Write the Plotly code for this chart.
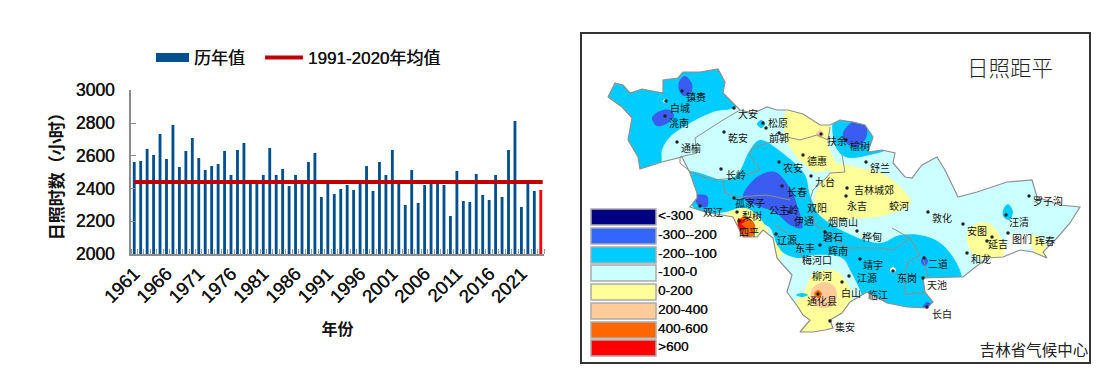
import plotly.graph_objects as go

FONT = "Liberation Sans, Noto Sans CJK SC, sans-serif"
CJK = "Noto Sans CJK SC, sans-serif"
THICK = "0.35px 0 0 #111111"

# ---------- left chart data ----------
years = list(range(1961, 2025))
sunshine_hours = [
    2562, 2568, 2642, 2605, 2733, 2580, 2788, 2532, 2629, 2709, 2587, 2513, 2538, 2550, 2629, 2483,
    2635, 2678, 2432, 2432, 2483, 2648, 2483, 2519, 2415, 2483, 2432, 2562, 2617, 2348, 2432, 2367,
    2397, 2421, 2391, 2432, 2538, 2385, 2562, 2483, 2635, 2432, 2299, 2513, 2311, 2421, 2432, 2432,
    2421, 2232, 2507, 2324, 2318, 2489, 2360, 2330, 2483, 2348, 2635, 2813, 2287, 2432, 2385, 2391,
]
normal_1991_2020 = 2440
tick_years = list(range(1961, 2022, 5))

# ---------- map data (image-space outlines of the province and anomaly bands) ----------
province = [(608,97),(615,83),(623,85),(630,93),(642,89),(648,90),(663,93),(663,80),(678,78),(683,72),(700,72),(718,69),
    (725,82),(723,93),(735,105),(740,110),(753,113),(767,107),(777,110),(788,110),(803,114),(820,125),(830,125),(840,120),
    (853,122),(865,125),(873,137),(868,152),(882,150),(895,153),(893,163),(905,177),(912,178),(922,165),(937,157),(945,170),
    (958,197),(977,192),(1007,182),(1032,180),(1037,197),(1060,205),(1080,207),(1070,223),(1057,238),(1043,252),(1047,258),
    (1033,252),(1020,250),(1007,255),(1003,257),(987,258),(963,277),(958,277),(923,278),(925,292),(933,302),(927,308),(907,307),
    (887,303),(867,292),(850,302),(842,313),(830,320),(833,328),(825,330),(813,332),(800,332),(810,320),(803,315),(798,307),
    (787,292),(792,275),(783,265),(777,258),(773,238),(763,230),(757,237),(743,237),(733,217),(723,215),(705,212),(690,207),
    (697,198),(697,193),(690,173),(682,157),(662,162),(640,169),(638,157),(628,140),(632,118),(622,107)]

cyan_nw = [(600,60),(737,60),(738,105),(713,112),(690,123),(670,137),(662,150),(660,165),(620,175),(600,175)]
cyan_ne = [(835,118),(878,125),(876,148),(886,150),(870,155),(850,158),(842,155),(835,145)]
cyan_main = [(760,140),(785,155),(805,175),(810,195),(820,215),(845,232),(880,243),(900,235),(925,236),(945,247),(962,282),
    (935,315),(870,312),(860,290),(850,270),(842,258),(815,255),(797,258),(780,250),(770,228),(760,222),(745,208),(725,212),
    (700,213),(685,190),(688,172),(725,180),(737,175),(750,150)]
cyan_spots = [[(761,120),(765,124),(761,128),(757,124)], [(1008,204),(1013,212),(1009,220),(1003,216),(1004,208)],
    [(796,295),(802,293),(808,295),(802,297)]]
blue_main = [(743,197),(757,177),(775,172),(790,188),(797,205),(802,228),(790,225),(775,212),(755,205)]
blue_spots = [[(685,76),(692,84),(691,93),(684,96),(679,90),(679,82)], [(652,118),(660,111),(670,110),(674,116),(668,123),(657,126)],
    [(855,121),(866,126),(866,138),(856,147),(846,143),(843,133)], [(695,196),(707,196),(707,207),(698,205)],
    [(924,256),(928,261),(925,266),(921,262)], [(927,302),(932,305),(928,310),(922,309)]]
yellow_north = [(788,108),(820,118),(830,125),(828,145),(835,165),(815,172),(805,165),(793,152),(785,135)]
yellow_central = [(815,195),(820,185),(830,172),(828,163),(860,168),(885,175),(903,190),(911,203),(890,214),(850,219),(825,219),(816,210)]
yellow_south = [(805,290),(812,275),(825,270),(838,272),(848,285),(852,300),(835,325),(800,338),(795,305)]
yellow_west = [(725,215),(745,208),(760,218),(770,235),(782,255),(770,258),(755,240),(735,230)]
yellow_east = [(967,235),(975,224),(990,224),(1002,240),(1005,255),(990,259),(975,256),(968,245)]
yellow_far_east = [(1030,235),(1040,237),(1048,255),(1040,256),(1032,248)]
peach_south = [(824,282),(834,286),(837,296),(832,306),(821,308),(812,302),(812,289)]
peach_north = [(820,130),(824,134),(820,138),(816,134)]
orange_south = [(818,290),(822,294),(818,298),(814,294)]
orange_west = [(745,216),(755,225),(752,237),(740,238),(738,222)]
red_west = [(738,218),(746,221),(741,224),(746,228),(741,231),(745,236),(737,239)]
white_patch = [(1007,235),(1030,233),(1032,248),(1020,250),(1007,255),(1003,258)]
white_spots = [[(665,99),(667,101),(665,103),(663,101)], [(893,267),(896,270),(893,273),(890,270)]]

county_lines = [
    [(740,110),(723,120),(695,138),(697,153),(680,157),(680,163),(692,173),(713,180),(737,178),(760,170),(750,155),(752,148),
     (787,137),(800,140),(817,135),(828,140),(830,127)],
    [(723,180),(725,193),(737,197),(767,195),(790,200)],
    [(842,155),(845,172),(830,173),(827,177),(813,190),(810,200),(815,225),(830,235),(848,248),(845,257)],
    [(892,228),(910,238),(920,255),(908,262),(905,272),(905,295),(925,292)],
    [(848,248),(880,248),(893,250),(910,238)],
    [(923,257),(928,277)],
    [(775,225),(790,235),(800,250),(805,265)],
]

station_x = [682,666,665,734,724,677,721,763,766,779,779,782,803,811,821,734,846,866,847,846,1029,928,963,1006,1008,992,987,967,857,860,893,924,927,923,849,842,830,700,737,739,776,789,825,820,818]
station_y = [91,101,116,108,132,142,169,123,128,133,162,186,155,176,134,198,140,162,188,196,196,212,224,215,233,237,241,253,231,259,271,258,307,278,276,282,321,206,212,221,234,212,232,245,294]

map_names = ["镇赉","白城","洮南","大安","乾安","通榆","长岭","农安","榆树","扶余","松原","前郭","德惠","九台","舒兰","长春","吉林城郊","永吉","蛟河",
    "双辽","孤家子","公主岭","伊通","双阳","梨树","四平","辽源","东丰","磐石","梅河口","辉南","柳河","通化县","烟筒山","桦甸","敦化","靖宇","东岗","二道","天池","长白",
    "江源","白山","临江","集安","安图","延吉","和龙","图们","珲春","汪清","罗子沟"]
name_x = [696,680,679,748,738,691,736,793,860,837,778,779,817,825,880,797,874,857,899,713,750,784,804,817,752,749,787,805,833,817,838,822,822,843,872,942,873,907,938,937,942,867,851,878,845,977,998,981,1022,1045,1019,1048]
name_y = [98,109,124,115,139,149,176,169,147,142,124,139,162,183,169,193,191,207,207,213,204,211,222,209,217,233,241,249,238,261,252,277,302,223,238,219,266,279,265,286,315,279,294,296,328,232,245,260,240,242,223,202]

legend_labels = ["<-300","-300--200","-200--100","-100-0","0-200","200-400","400-600",">600"]
legend_colors = ["#000080","#3366FF","#00CCFF","#CCFFFF","#FFFF99","#FFCC99","#FF6600","#FF0000"]
legend_rows = [217,236,255,273,292,311,330,348]

fig = go.Figure()

# ---------- bars and mean line ----------
fig.add_trace(go.Bar(x=years, y=sunshine_hours, width=0.44, showlegend=False,
                     marker=dict(color=["#00508F"] * 63 + ["#FF0000"], line_width=0)))
fig.add_trace(go.Scatter(x=[None], y=[None], mode="lines", name="历年值", legend="legend",
                         line=dict(color="#00508F", width=9)))
fig.add_trace(go.Scatter(x=[years[0], years[-1] + 0.3], y=[normal_1991_2020] * 2, mode="lines", legend="legend2",
                         name="1991-2020年均值", line=dict(color="#C00000", width=4)))

# ---------- map ----------
def poly(points, color, smooth=True):
    xs = [p[0] for p in points] + [points[0][0]]
    ys = [p[1] for p in points] + [points[0][1]]
    fig.add_trace(go.Scatter(x=xs, y=ys, xaxis="x2", yaxis="y2", mode="lines", fill="toself", fillcolor=color,
                             line=dict(width=0, color=color, shape="spline" if smooth else "linear"),
                             hoverinfo="skip", showlegend=False))

poly(province, "#CCFFFF", False)
for pts in [cyan_nw, cyan_ne, cyan_main]:
    poly(pts, "#00CCFF")
for pts in [yellow_north, yellow_central, yellow_south, yellow_west, yellow_east, yellow_far_east]:
    poly(pts, "#FFFF99")
for pts in cyan_spots:
    poly(pts, "#00CCFF")
poly(blue_main, "#3A5CF0")
for pts in blue_spots:
    poly(pts, "#3A5CF0")
poly(peach_south, "#FFCC99")
poly(peach_north, "#FFCC99")
poly(orange_south, "#FF6600")
poly(orange_west, "#FF6600")
poly(red_west, "#FF0000", False)
poly(white_patch, "#FFFFFF", False)
for pts in white_spots:
    poly(pts, "#FFFFFF")

# white mask outside the province, so the bands stop at its border
frame = [(582,34),(1089,34),(1089,362),(582,362),(582,34)]
mask = frame + [province[0]] + province[::-1] + [province[0], (582,34)]
fig.add_trace(go.Scatter(x=[p[0] for p in mask], y=[p[1] for p in mask], xaxis="x2", yaxis="y2", mode="lines",
                         fill="toself", fillcolor="#FFFFFF", line=dict(width=0), hoverinfo="skip", showlegend=False))

cx, cy = [], []
for seg in county_lines:
    cx += [p[0] for p in seg] + [None]
    cy += [p[1] for p in seg] + [None]
fig.add_trace(go.Scatter(x=cx, y=cy, xaxis="x2", yaxis="y2", mode="lines",
                         line=dict(color="#8E8E8E", width=1), hoverinfo="skip", showlegend=False))
fig.add_trace(go.Scatter(x=[p[0] for p in province] + [province[0][0]], y=[p[1] for p in province] + [province[0][1]],
                         xaxis="x2", yaxis="y2", mode="lines", line=dict(color="#8E8E8E", width=1.2),
                         hoverinfo="skip", showlegend=False))
fig.add_trace(go.Scatter(x=station_x, y=station_y, xaxis="x2", yaxis="y2", mode="markers",
                         marker=dict(size=3.5, color="#222222"), hoverinfo="skip", showlegend=False))
fig.add_trace(go.Scatter(x=name_x, y=name_y, text=map_names, xaxis="x2", yaxis="y2", mode="text",
                         textfont=dict(family=CJK, size=10, color="#111111"), hoverinfo="skip", showlegend=False))

# map legend, on its own pair of axes so it sits above the map
fig.add_trace(go.Bar(y=legend_rows, x=[65] * 8, base=[591] * 8, orientation="h", width=16, xaxis="x3", yaxis="y3",
                     marker=dict(color=legend_colors, line=dict(color="#ABABAB", width=1.5)),
                     hoverinfo="skip", showlegend=False))
fig.add_trace(go.Scatter(x=[658] * 8, y=legend_rows, text=legend_labels, xaxis="x3", yaxis="y3", mode="text",
                         textposition="middle right", textfont=dict(family=FONT, size=13.5, color="#111111", shadow=THICK),
                         hoverinfo="skip", showlegend=False))
fig.add_trace(go.Scatter(x=[1010], y=[71], text=["日照距平"], xaxis="x3", yaxis="y3", mode="text",
                         textfont=dict(family=CJK, size=21.5, color="#222222", weight=300), hoverinfo="skip", showlegend=False))
fig.add_trace(go.Scatter(x=[1034], y=[352], text=["吉林省气候中心"], xaxis="x3", yaxis="y3", mode="text",
                         textfont=dict(family=CJK, size=15.5, color="#222222"), hoverinfo="skip", showlegend=False))

# the page body has an 8 px margin, so the figure starts at (8, 8)
OFF = 8
W, H = 1096, 375
def fx(px):
    return (px - OFF) / W
def fy(px):
    return 1 - (px - OFF) / H

map_x = dict(domain=[fx(582), fx(1089)], range=[582, 1089], showticklabels=False, ticks="", showgrid=False, zeroline=False)
map_y = dict(domain=[fy(362), fy(34)], range=[362, 34], showticklabels=False, ticks="", showgrid=False, zeroline=False)
legend_style = dict(orientation="h", y=fy(40), xanchor="left", yanchor="top",
                    font=dict(family=FONT, size=17, color="#111111", shadow=THICK), bgcolor="rgba(0,0,0,0)")

fig.update_layout(
    width=W, height=H, margin=dict(l=0, r=0, t=0, b=0, pad=0), paper_bgcolor="white", plot_bgcolor="white",
    barmode="overlay", font=dict(family=FONT, color="#111111"),
    legend=dict(x=fx(151), itemwidth=33, **legend_style),
    legend2=dict(x=fx(260), itemwidth=38, **legend_style),
    xaxis=dict(domain=[fx(131), fx(544)], range=[1960.5, 2024.5], tickmode="array", tickvals=tick_years, automargin=False,
               ticktext=[str(y) for y in tick_years], tickangle=-45, ticks="", showgrid=False, zeroline=False,
               showline=True, linecolor="#8C8C8C", linewidth=1.5, tickfont=dict(family=FONT, size=18.5, color="#111111", shadow=THICK),
               minor=dict(tick0=1960.5, dtick=1, ticks="inside", ticklen=5, tickcolor="#9A9A9A", tickwidth=1, showgrid=False),
               title=dict(text="<b>年份</b>", font=dict(family=CJK, size=16, color="#111111"), standoff=18)),
    yaxis=dict(domain=[fy(254), fy(90.3)], range=[2000, 3000], tickvals=[2000, 2200, 2400, 2600, 2800, 3000], automargin=False,
               ticks="inside", ticklen=5, tickcolor="#8C8C8C", tickwidth=1, showgrid=False, zeroline=False, ticklabelstandoff=11,
               showline=True, linecolor="#8C8C8C", linewidth=1.5, tickfont=dict(family=FONT, size=17.5, color="#111111", shadow=THICK),
               title=dict(text="<b>日照时数（小时）</b>", font=dict(family=CJK, size=17, color="#111111"), standoff=8)),
    xaxis2=dict(anchor="y2", showline=True, mirror=True, linecolor="#333333", linewidth=2, **map_x),
    yaxis2=dict(anchor="x2", showline=True, mirror=True, linecolor="#333333", linewidth=2, **map_y),
    xaxis3=dict(anchor="y3", overlaying="x2", visible=False, **map_x),
    yaxis3=dict(anchor="x3", overlaying="y2", visible=False, **map_y),
)

fig.write_html("out.html")
